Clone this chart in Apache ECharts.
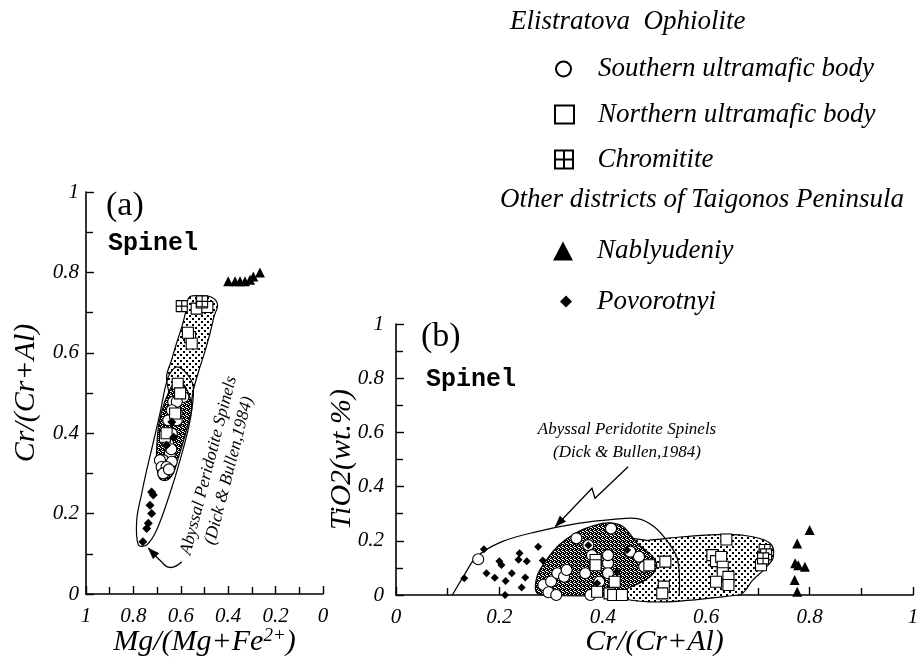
<!DOCTYPE html>
<html>
<head>
<meta charset="utf-8">
<script src="https://cdn.jsdelivr.net/npm/echarts@6/dist/echarts.min.js"></script>
<style>
html,body{margin:0;padding:0;background:#fff;}
#chart{width:916px;height:672px;}
</style>
</head>
<body>
<div id="chart"></div>
<script>
// ---------------- DATA ----------------
const seriesNames = ['Southern ultramafic body', 'Northern ultramafic body', 'Chromitite', 'Nablyudeniy', 'Povorotnyi'];
const headingElistratova = 'Elistratova  Ophiolite';
const headingOther = 'Other districts of Taigonos Peninsula';
const fieldLabel = ['Abyssal Peridotite Spinels', '(Dick & Bullen,1984)'];

// Panel (a): [Mg/(Mg+Fe2+), Cr/(Cr+Al)]
const southernA = [[0.632,0.478],[0.589,0.49],[0.617,0.478],[0.638,0.457],[0.617,0.449],[0.653,0.432],[0.617,0.432],[0.638,0.399],[0.653,0.374],[0.646,0.349],[0.674,0.333],[0.638,0.329],[0.688,0.333],[0.681,0.316],[0.66,0.316],[0.674,0.30],[0.65,0.31],[0.64,0.36]];
const northernA = [[0.533,0.71],[0.488,0.714],[0.512,0.725],[0.561,0.639],[0.554,0.623],[0.57,0.65],[0.613,0.523],[0.603,0.499],[0.624,0.449],[0.667,0.391],[0.66,0.40]];
const chromititeA = [[0.596,0.716],[0.51,0.728]];
const nablyudeniyA = [[0.40,0.778],[0.371,0.778],[0.35,0.778],[0.329,0.778],[0.308,0.782],[0.294,0.79],[0.266,0.80]];
const povorotnyiA = [[0.723,0.254],[0.716,0.246],[0.73,0.221],[0.723,0.2],[0.737,0.176],[0.744,0.163],[0.76,0.13],[0.638,0.428],[0.63,0.39],[0.66,0.37]];

// Panel (b): [Cr/(Cr+Al), TiO2 wt.%]
const southernB = [[0.159,0.132],[0.285,0.037],[0.30,0.05],[0.295,0.01],[0.312,0.08],[0.325,0.067],[0.31,0.0],[0.349,0.209],[0.366,0.08],[0.372,0.184],[0.376,0.0],[0.379,0.147],[0.41,0.117],[0.41,0.147],[0.416,0.245],[0.41,0.08],[0.453,0.16],[0.47,0.141],[0.48,0.104],[0.393,0.049],[0.33,0.092]];
const northernB = [[0.386,0.129],[0.386,0.11],[0.389,0.012],[0.423,0.049],[0.413,0.006],[0.42,0.0],[0.437,0.0],[0.49,0.11],[0.521,0.123],[0.518,0.031],[0.515,0.006],[0.612,0.147],[0.619,0.125],[0.629,0.14],[0.632,0.104],[0.632,0.08],[0.619,0.049],[0.643,0.067],[0.643,0.037],[0.639,0.205],[0.706,0.11],[0.71,0.141]];
const chromititeB = [[0.713,0.166],[0.716,0.15],[0.71,0.135]];
const nablyudeniyB = [[0.776,0.19],[0.80,0.24],[0.772,0.117],[0.778,0.11],[0.791,0.104],[0.771,0.055],[0.776,0.012]];
const povorotnyiB = [[0.170,0.169],[0.132,0.062],[0.175,0.08],[0.191,0.064],[0.2,0.125],[0.204,0.111],[0.224,0.08],[0.212,0.052],[0.211,0.0],[0.239,0.154],[0.237,0.13],[0.253,0.125],[0.25,0.065],[0.243,0.028],[0.275,0.178],[0.284,0.127],[0.372,0.184],[0.389,0.043],[0.427,0.086],[0.447,0.166]];

// Fields (data units)
const abyssalFieldA = [[0.779,0.122],[0.786,0.184],[0.765,0.25],[0.744,0.308],[0.715,0.38],[0.688,0.449],[0.653,0.54],[0.617,0.565],[0.575,0.548],[0.547,0.515],[0.561,0.432],[0.603,0.333],[0.646,0.25],[0.702,0.159],[0.744,0.122]];
const northernFieldA = [[0.565,0.738],[0.52,0.742],[0.47,0.738],[0.445,0.72],[0.46,0.69],[0.477,0.648],[0.50,0.60],[0.519,0.565],[0.547,0.507],[0.56,0.46],[0.58,0.42],[0.62,0.43],[0.645,0.49],[0.66,0.54],[0.64,0.58],[0.62,0.62],[0.596,0.664],[0.58,0.70]];
const southernFieldA = [[0.617,0.532],[0.58,0.515],[0.554,0.465],[0.575,0.41],[0.596,0.366],[0.615,0.33],[0.632,0.30],[0.66,0.283],[0.69,0.288],[0.702,0.33],[0.70,0.38],[0.69,0.43],[0.66,0.49]];
const abyssalFieldB = [[0.109,0],[0.13,0.067],[0.156,0.141],[0.204,0.196],[0.271,0.233],[0.352,0.264],[0.42,0.279],[0.467,0.282],[0.5,0.251],[0.528,0.19],[0.545,0.129],[0.548,0]];
const northernFieldB = [[0.44,0.20],[0.487,0.202],[0.555,0.215],[0.636,0.224],[0.69,0.215],[0.724,0.19],[0.73,0.141],[0.717,0.104],[0.69,0.055],[0.663,0],[0.42,0]];
const southernFieldB = [[0.271,0.012],[0.271,0.055],[0.278,0.092],[0.312,0.178],[0.352,0.233],[0.386,0.258],[0.413,0.266],[0.44,0.251],[0.467,0.19],[0.497,0.141],[0.504,0.104],[0.487,0.061],[0.44,0.018],[0.42,0],[0.285,0]];
const arrowPathA = [[0.596,0.08],[0.646,0.066],[0.688,0.084],[0.737,0.114]];
const arrowPathB = [[0.449,0.473],[0.385,0.357],[0.379,0.394],[0.308,0.252]];

// ---------------- STYLE HELPERS ----------------
function makePattern(size, bg, fg, cells) {
  const c = document.createElement('canvas');
  c.width = size; c.height = size;
  const g = c.getContext('2d');
  g.fillStyle = bg; g.fillRect(0, 0, size, size);
  g.fillStyle = fg;
  cells.forEach(function (r) { g.fillRect(r[0], r[1], r[2], r[3]); });
  return c;
}
const lightPattern = { image: makePattern(6, '#fff', '#000', [[0,0,2,2],[3,3,2,2]]), repeat: 'repeat' };
const darkPattern = { image: makePattern(4, '#000', '#fff', [[0,0,1,1],[2,1,1,1],[1,2,1,1],[3,3,1,1],[2,3,1,1]]), repeat: 'repeat' };

const SERIF = '"Liberation Serif", "DejaVu Serif", serif';
const black = '#000';

function fieldSeries(points, fill, axisIdx, closed, z) {
  return {
    type: 'custom', xAxisIndex: axisIdx, yAxisIndex: axisIdx, z: z, silent: true,
    data: [[0.5, 0.5]],
    renderItem: function (params, api) {
      const pts = points.map(function (p) { return api.coord(p); });
      return {
        type: closed ? 'polygon' : 'polyline',
        shape: { points: pts, smooth: 0.35 },
        style: { fill: fill || null, stroke: black, lineWidth: 1.2 }
      };
    }
  };
}
function arrowSeries(points, axisIdx, smooth) {
  return {
    type: 'custom', xAxisIndex: axisIdx, yAxisIndex: axisIdx, z: 4, silent: true,
    data: [[0.5, 0.5]],
    renderItem: function (params, api) {
      const pts = points.map(function (p) { return api.coord(p); });
      const n = pts.length;
      const x1 = pts[n-2][0], y1 = pts[n-2][1], x2 = pts[n-1][0], y2 = pts[n-1][1];
      const a = Math.atan2(y2 - y1, x2 - x1);
      const L = 11, W = 4, c = Math.cos(a), s = Math.sin(a);
      const head = [[x2, y2], [x2 - L*c + W*s, y2 - L*s - W*c], [x2 - L*c - W*s, y2 - L*s + W*c]];
      return {
        type: 'group',
        children: [
          { type: 'polyline', shape: { points: pts, smooth: smooth }, style: { fill: null, stroke: black, lineWidth: 1.3 } },
          { type: 'polygon', shape: { points: head }, style: { fill: black, stroke: black, lineWidth: 0.5 } }
        ]
      };
    }
  };
}
const symbolStyles = {
  'Southern ultramafic body': { symbol: 'circle', size: 11, itemStyle: { color: '#fff', borderColor: black, borderWidth: 1.1, opacity: 1 } },
  'Northern ultramafic body': { symbol: 'rect', size: 11, itemStyle: { color: '#fff', borderColor: black, borderWidth: 1.1, opacity: 1 } },
  'Chromitite': { symbol: 'path://M0,0H10V10H0Z M5,0V10 M0,5H10', size: 11, itemStyle: { color: '#fff', borderColor: black, borderWidth: 1.1, opacity: 1 } },
  'Nablyudeniy': { symbol: 'triangle', size: 10, itemStyle: { color: black, borderWidth: 0, opacity: 1 } },
  'Povorotnyi': { symbol: 'diamond', size: 8, itemStyle: { color: black, borderWidth: 0, opacity: 1 } }
};
function scatter(name, data, axisIdx, sizeOverride) {
  const st = symbolStyles[name];
  return {
    type: 'scatter', name: name, data: data, xAxisIndex: axisIdx, yAxisIndex: axisIdx, z: 5,
    symbol: st.symbol, symbolSize: sizeOverride || st.size, itemStyle: st.itemStyle,
    emphasis: { disabled: true }, clip: false
  };
}

function valueAxis(gridIndex, opts) {
  return Object.assign({
    type: 'value', gridIndex: gridIndex, min: 0, max: 1, interval: 0.2,
    axisLine: { show: true, onZero: false, lineStyle: { color: black, width: 1.6 } },
    axisTick: { show: true, inside: true, length: 8, lineStyle: { color: black, width: 1.4 } },
    minorTick: { show: true, splitNumber: 2, length: 7, lineStyle: { color: black, width: 1.4 } },
    splitLine: { show: false }, minorSplitLine: { show: false },
    axisLabel: { color: black, fontFamily: SERIF, fontStyle: 'italic', fontSize: 21, margin: 12, showMinLabel: true, showMaxLabel: true },
    nameLocation: 'middle',
    nameMoveOverlap: false,
    nameTextStyle: { color: black, fontFamily: SERIF, fontStyle: 'italic', fontSize: 30,
      rich: { sup: { fontFamily: SERIF, fontStyle: 'italic', fontSize: 19, padding: [0, 0, 14, 0], color: black } } }
  }, opts);
}

function legendItem(name, left, centerY, w, h, textPad) {
  return {
    data: [name], left: left, top: centerY - h / 2, orient: 'vertical', padding: 0,
    itemWidth: w, itemHeight: h, selectedMode: false,
    textStyle: { color: black, fontFamily: SERIF, fontStyle: 'italic', fontSize: 27, padding: [0, 0, 0, textPad] }
  };
}

const chart = echarts.init(document.getElementById('chart'), null, { renderer: 'canvas' });
const option = {
  backgroundColor: '#fff',
  animation: false,
  grid: [
    { left: 86, top: 192, width: 237, height: 402, outerBoundsMode: 'none', containLabel: false },
    { left: 396, top: 324, width: 517, height: 271, outerBoundsMode: 'none', containLabel: false }
  ],
  xAxis: [
    valueAxis(0, { inverse: true, name: 'Mg/(Mg+Fe{sup|2+})', nameGap: 32 }),
    valueAxis(1, { name: 'Cr/(Cr+Al)', nameGap: 32 })
  ],
  yAxis: [
    valueAxis(0, { name: 'Cr/(Cr+Al)', nameGap: 45, axisLabel: { color: black, fontFamily: SERIF, fontStyle: 'italic', fontSize: 21, margin: 7 } }),
    valueAxis(1, { name: 'TiO2(wt.%)', nameGap: 39, axisLabel: { color: black, fontFamily: SERIF, fontStyle: 'italic', fontSize: 21, margin: 12 } })
  ],
  legend: [
    legendItem(seriesNames[0], 555, 63, 15, 15, 22),
    legendItem(seriesNames[1], 554, 110, 19, 18, 19),
    legendItem(seriesNames[2], 554, 155, 19, 18, 19),
    legendItem(seriesNames[3], 553, 247, 20, 19, 19),
    legendItem(seriesNames[4], 560, 294, 12, 12, 20)
  ],
  graphic: [
    { type: 'text', x: 510, y: 22, style: { text: headingElistratova, font: 'italic 27px ' + SERIF, fill: black, align: 'left', verticalAlign: 'middle' } },
    { type: 'text', x: 500, y: 200, style: { text: headingOther, font: 'italic 27px ' + SERIF, fill: black, align: 'left', verticalAlign: 'middle' } },
    { type: 'text', x: 106, y: 206, style: { text: '(a)', font: '34px ' + SERIF, fill: black, align: 'left', verticalAlign: 'middle' } },
    { type: 'text', x: 108, y: 244, style: { text: 'Spinel', font: 'bold 25px "Liberation Mono", "DejaVu Sans Mono", monospace', fill: black, align: 'left', verticalAlign: 'middle' } },
    { type: 'text', x: 421, y: 337, style: { text: '(b)', font: '34px ' + SERIF, fill: black, align: 'left', verticalAlign: 'middle' } },
    { type: 'text', x: 426, y: 380, style: { text: 'Spinel', font: 'bold 25px "Liberation Mono", "DejaVu Sans Mono", monospace', fill: black, align: 'left', verticalAlign: 'middle' } },
    { type: 'text', x: 627, y: 441, style: { text: fieldLabel.join('\n'), font: 'italic 17px ' + SERIF, lineHeight: 23, fill: black, align: 'center', verticalAlign: 'middle' } },
    { type: 'text', x: 219, y: 468, rotation: 1.318, style: { text: fieldLabel.join('\n'), font: 'italic 17.5px ' + SERIF, lineHeight: 21, fill: black, align: 'center', verticalAlign: 'middle' } }
  ],
  series: [
    fieldSeries(northernFieldA, lightPattern, 0, true, 1),
    fieldSeries(southernFieldA, darkPattern, 0, true, 2),
    fieldSeries(abyssalFieldA, null, 0, true, 3),
    arrowSeries(arrowPathA, 0, 0.5),
    fieldSeries(northernFieldB, lightPattern, 1, true, 1),
    fieldSeries(southernFieldB, darkPattern, 1, true, 2),
    fieldSeries(abyssalFieldB, null, 1, false, 3),
    arrowSeries(arrowPathB, 1, 0),
    scatter(seriesNames[0], southernA, 0),
    scatter(seriesNames[1], northernA, 0),
    scatter(seriesNames[2], chromititeA, 0),
    scatter(seriesNames[3], nablyudeniyA, 0),
    scatter(seriesNames[4], povorotnyiA, 0, 9),
    scatter(seriesNames[0], southernB, 1),
    scatter(seriesNames[1], northernB, 1),
    scatter(seriesNames[2], chromititeB, 1),
    scatter(seriesNames[3], nablyudeniyB, 1),
    scatter(seriesNames[4], povorotnyiB, 1)
  ]
};
chart.setOption(option);
</script>
</body>
</html>
